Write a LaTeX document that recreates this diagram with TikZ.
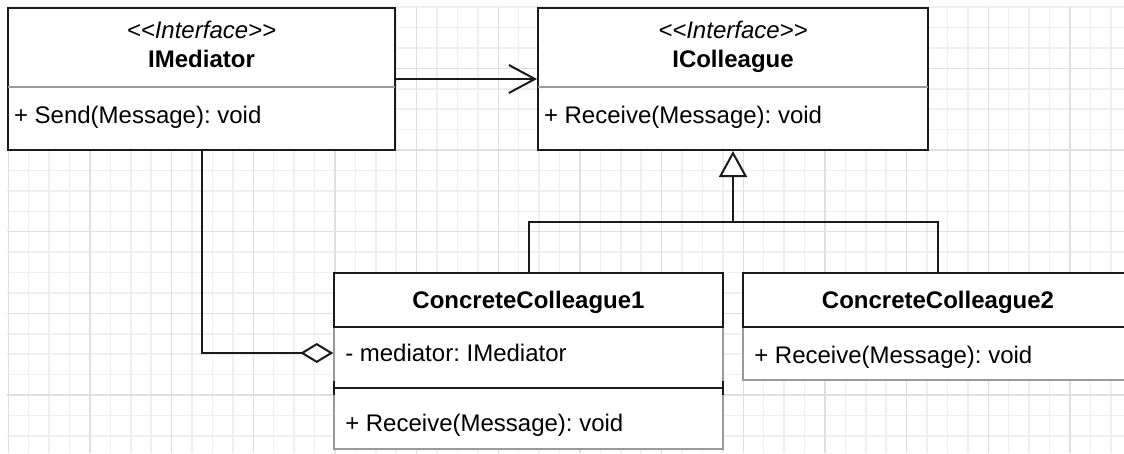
\documentclass[tikz,border=0pt]{standalone}
\usepackage{fontspec}
\setmainfont{Liberation Sans}
\usepackage{tikz}
\usetikzlibrary{arrows.meta}
\definecolor{inkcol}{HTML}{1A1A1A}
\definecolor{rulecol}{HTML}{9A9A9A}
\definecolor{gridfinecol}{HTML}{EFEFEF}
\definecolor{gridboldcol}{HTML}{E0E0E0}
\newcommand\umlsize{\fontsize{24pt}{28.8pt}\selectfont\frenchspacing}
\newcommand\stereo[1]{<\kern0pt<#1>\kern0pt>}

\begin{document}
\begin{tikzpicture}[x=1pt, y=-1pt,
  gridfine/.style={draw=gridfinecol, line width=1.5pt},
  gridbold/.style={draw=gridboldcol, line width=1.5pt},
  iface/.style={draw=inkcol, line width=2pt, fill=white, minimum height=142pt, inner sep=0pt},
  ifacetxt/.style={inner sep=0pt, outer sep=0pt, text height=17.2pt, text depth=0pt},
  classhead/.style={draw=inkcol, line width=2pt, fill=white, minimum height=54pt, inner sep=0pt,
    text height=17.2pt, text depth=0pt, font=\umlsize\bfseries},
  classbody/.style={draw=rulecol, line width=1.5pt, fill=white, inner sep=0pt},
  member/.style={anchor=west, inner xsep=#1, inner ysep=0pt, outer sep=0pt,
    text height=17.2pt, text depth=0pt, font=\umlsize},
  divline/.style={draw=rulecol, line width=1.2pt, shorten <=1pt, shorten >=1pt},
  sepline/.style={draw=inkcol, line width=2pt, {Bar[width=14pt]}-{Bar[width=14pt]}},
  link/.style={draw=inkcol, line width=2pt},
  assoc/.style={link, -{Straight Barb[length=26pt, width=28pt]}},
  inherit/.style={link, -{Triangle[fill=white, length=26pt, width=28pt]}},
  aggr/.style={link, -{Diamond[fill=white, length=33pt, width=20pt]}}]
\useasboundingbox[fill=white] (0,0) rectangle (1124,453);
\clip (0,0) rectangle (1124,453);
% background grid
\foreach \k in {0,...,54} \draw[gridfine] ({8.3+20.417*\k},7) -- ++(0,446);
\foreach \k in {0,...,21} \draw[gridfine] (7,{7.1+20.417*\k}) -- ++(1117,0);
\foreach \k in {0,...,13} \draw[gridbold] ({8.3+81.667*\k},7) -- ++(0,446);
\foreach \k in {0,...,4} \draw[gridbold] (7,{68.3+81.667*\k}) -- ++(1117,0);
% interfaces
\node[iface, minimum width=387pt] (imed) at (201.5,79) {};
\draw[divline] (imed.west |- 0,87) -- (imed.east |- 0,87);
\node[ifacetxt, font=\umlsize\itshape] (imedst) at (201.5,30) {\stereo{Interface}};
\node[ifacetxt, font=\umlsize\bfseries] (imedname) at (201.5,58.5) {IMediator};
\node[member=7pt] (imedop) at (imed.west |- 0,114.4) {+ Send(Message): void};
\node[iface, minimum width=390pt] (icol) at (733,79) {};
\draw[divline] (icol.west |- 0,87) -- (icol.east |- 0,87);
\node[ifacetxt, font=\umlsize\itshape] (icolst) at (733,30) {\stereo{Interface}};
\node[ifacetxt, font=\umlsize\bfseries] (icolname) at (733,58.5) {IColleague};
\node[member=7pt] (icolop) at (icol.west |- 0,114.4) {+ Receive(Message): void};
% concrete colleagues
\node[classbody, minimum width=389pt, minimum height=122pt] (cc1body) at (528.5,388) {};
\node[classhead, minimum width=389pt] (cc1) at (528.5,300) {ConcreteColleague1};
\node[member=12pt] (cc1att) at (cc1body.west |- 0,353) {- mediator: IMediator};
\draw[sepline] (cc1body.west |- 0,388) -- (cc1body.east |- 0,388);
\node[member=12pt] (cc1op) at (cc1body.west |- 0,423) {+ Receive(Message): void};
\node[classbody, minimum width=390pt, minimum height=53pt] (cc2body) at (938,353.5) {};
\node[classhead, minimum width=390pt] (cc2) at (938,300) {ConcreteColleague2};
\node[member=12pt] (cc2op) at (cc2body.west |- 0,354.5) {+ Receive(Message): void};
% relations
\coordinate (fork) at (icol.south |- 0,222);
\draw[assoc] (imed.east) -- (icol.west);
\draw[link] (cc1.north) |- (fork) -| (cc2.north);
\draw[inherit] (fork) -- (icol.south);
\draw[aggr] (imed.south) |- (cc1att.west);
\end{tikzpicture}
\end{document}
